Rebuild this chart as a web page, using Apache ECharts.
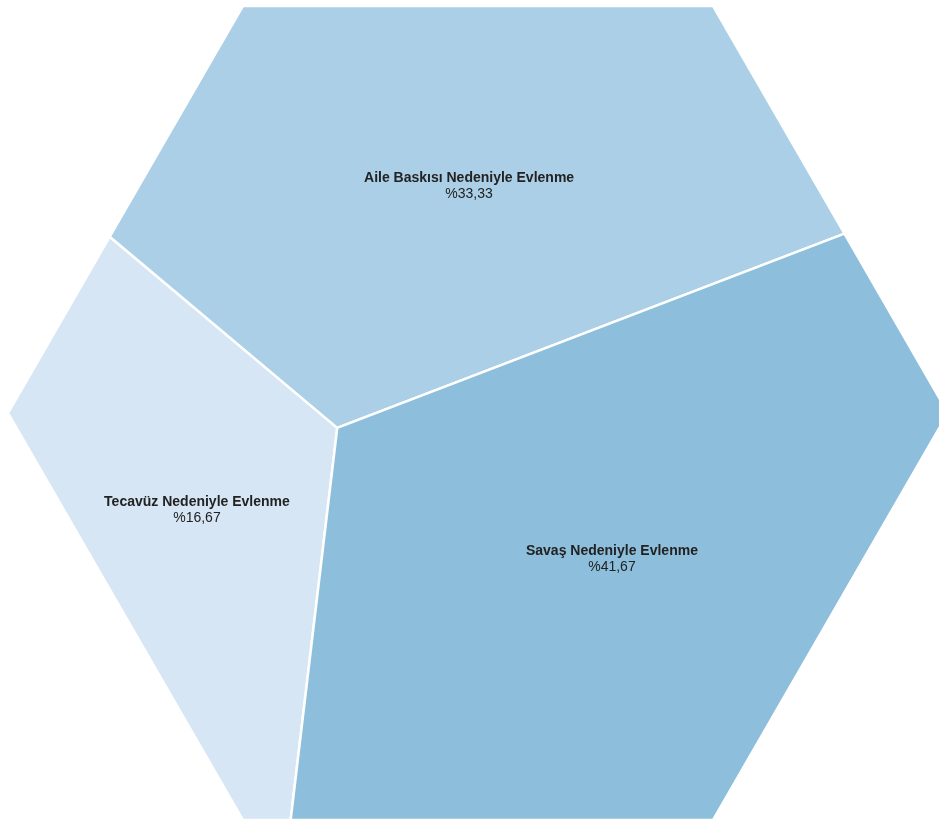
<!DOCTYPE html>
<html>
<head>
<meta charset="utf-8">
<title>Evlenme Nedenleri</title>
<script src="https://cdn.jsdelivr.net/npm/echarts@6/dist/echarts.min.js"></script>
<style>
  html, body { margin: 0; padding: 0; background: #ffffff; }
  #chart { width: 939px; height: 821px; }
</style>
</head>
<body>
<div id="chart"></div>
<script>
// Categories and their shares (percent)
const categories = ['Tecavüz Nedeniyle Evlenme', 'Aile Baskısı Nedeniyle Evlenme', 'Savaş Nedeniyle Evlenme'];
const values = [16.67, 33.33, 41.67];
const colors = ['#d6e6f4', '#abcfe6', '#8dbfdd'];

// Seed points of the weighted Voronoi layout, in unit-hexagon coordinates
const seedX = [-0.598, -0.019, 0.285];
const seedY = [-0.206, 0.483, -0.311];

// Flat-topped unit hexagon used as the outer boundary
const hexagon = [];
for (let k = 0; k < 6; k++) {
  const a = Math.PI / 3 * k;
  hexagon.push([Math.cos(a), Math.sin(a)]);
}

function polygonArea(poly) {
  let s = 0;
  for (let i = 0; i < poly.length; i++) {
    const p = poly[i], q = poly[(i + 1) % poly.length];
    s += p[0] * q[1] - q[0] * p[1];
  }
  return Math.abs(s) / 2;
}

// Keep the part of poly where ax*x + ay*y <= b
function clipHalfPlane(poly, ax, ay, b) {
  const out = [];
  for (let i = 0; i < poly.length; i++) {
    const p = poly[i], q = poly[(i + 1) % poly.length];
    const fp = ax * p[0] + ay * p[1] - b;
    const fq = ax * q[0] + ay * q[1] - b;
    if (fp <= 0) out.push(p);
    if ((fp < 0 && fq > 0) || (fp > 0 && fq < 0)) {
      const t = fp / (fp - fq);
      out.push([p[0] + t * (q[0] - p[0]), p[1] + t * (q[1] - p[1])]);
    }
  }
  return out;
}

// Power-diagram cells of the seeds, clipped to the hexagon
function powerCells(weights) {
  const n = seedX.length;
  const cells = [];
  for (let i = 0; i < n; i++) {
    let cell = hexagon.slice();
    for (let j = 0; j < n; j++) {
      if (i === j) continue;
      const ax = 2 * (seedX[j] - seedX[i]);
      const ay = 2 * (seedY[j] - seedY[i]);
      const b = (seedX[j] * seedX[j] + seedY[j] * seedY[j]) -
                (seedX[i] * seedX[i] + seedY[i] * seedY[i]) + weights[i] - weights[j];
      cell = clipHalfPlane(cell, ax, ay, b);
      if (!cell.length) break;
    }
    cells.push(cell);
  }
  return cells;
}

// Adjust weights until each cell's area is proportional to its value
const total = values.reduce((a, b) => a + b, 0);
const hexArea = polygonArea(hexagon);
const targets = values.map(v => v / total * hexArea);
const weights = values.map(() => 0);
let cells = powerCells(weights);
for (let it = 0; it < 3000; it++) {
  for (let i = 0; i < weights.length; i++) {
    weights[i] += 0.5 * (targets[i] - polygonArea(cells[i]));
  }
  cells = powerCells(weights);
}

function formatPercent(v) {
  return '%' + v.toFixed(2).replace('.', ',');
}

const chart = echarts.init(document.getElementById('chart'), null, { renderer: 'canvas' });

// Axis ranges place the hexagon centre and radius within the 939x821 canvas
const scale = 470, centreX = 478, centreY = 413, W = 939, H = 821;

chart.setOption({
  animation: false,
  grid: { left: 0, right: 0, top: 0, bottom: 0 },
  xAxis: { type: 'value', min: -centreX / scale, max: (W - centreX) / scale, show: false },
  yAxis: { type: 'value', min: -(H - centreY) / scale, max: centreY / scale, show: false },
  series: [{
    type: 'custom',
    coordinateSystem: 'cartesian2d',
    data: categories.map((c, i) => [seedX[i], seedY[i], i]),
    renderItem: function (params, api) {
      const i = params.dataIndex;
      const pts = cells[i].map(p => api.coord(p));
      const centre = api.coord([seedX[i], seedY[i]]);
      return {
        type: 'group',
        children: [{
          type: 'polygon',
          shape: { points: pts },
          style: { fill: colors[i], stroke: '#ffffff', lineWidth: 2.5, lineJoin: 'round' }
        }, {
          type: 'text',
          x: centre[0],
          y: centre[1],
          style: {
            text: '{n|' + categories[i] + '}\n{p|' + formatPercent(values[i]) + '}',
            align: 'center',
            verticalAlign: 'middle',
            rich: {
              n: { fontFamily: 'Liberation Sans, Arial, sans-serif', fontSize: 14, fontWeight: 'bold', fill: '#222222', lineHeight: 16, align: 'center' },
              p: { fontFamily: 'Liberation Sans, Arial, sans-serif', fontSize: 14, fill: '#222222', lineHeight: 16, align: 'center' }
            }
          }
        }]
      };
    }
  }]
});
</script>
</body>
</html>
